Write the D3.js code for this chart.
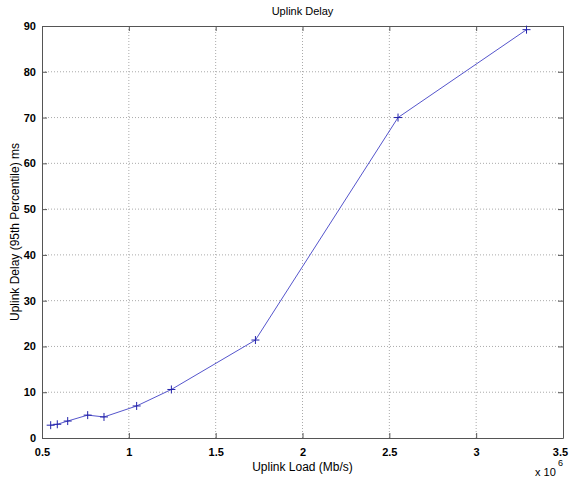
<!DOCTYPE html>
<html>
<head>
<meta charset="utf-8">
<script src="https://cdn.jsdelivr.net/npm/d3@7"></script>
<style>
  body { margin: 0; background: #fff; }
  text { font-family: "Liberation Sans", Arial, sans-serif; fill: #000; }
</style>
</head>
<body>
<svg id="chart" width="569" height="481"></svg>
<script>
// load values are in units of 1e6 (axis shows "x 10^6")
var loads = [0.55, 0.588, 0.648, 0.763, 0.857, 1.045, 1.245, 1.729, 2.55, 3.29];
var delays = [2.8, 3.0, 3.7, 5.0, 4.6, 7.0, 10.6, 21.4, 70.0, 89.2];
var xTicks = [0.5, 1, 1.5, 2, 2.5, 3, 3.5];
var yTicks = [0, 10, 20, 30, 40, 50, 60, 70, 80, 90];

var margin = { left: 42, top: 26, right: 6, bottom: 43 };
var svg = d3.select("#chart");
var W = +svg.attr("width"), H = +svg.attr("height");
var w = W - margin.left - margin.right, h = H - margin.top - margin.bottom;

var x = d3.scaleLinear().domain([0.5, 3.5]).range([0, w]);
var y = d3.scaleLinear().domain([0, 90]).range([h, 0]);

var g = svg.append("g").attr("transform", "translate(" + margin.left + "," + margin.top + ")");

// grid
g.selectAll(".gx").data(xTicks.slice(1, -1)).enter().append("line")
    .attr("x1", d => x(d)).attr("x2", d => x(d)).attr("y1", 0).attr("y2", h)
    .attr("stroke", "#aaa").attr("stroke-width", 1).attr("stroke-dasharray", "1,2");
g.selectAll(".gy").data(yTicks.slice(1, -1)).enter().append("line")
    .attr("y1", d => y(d)).attr("y2", d => y(d)).attr("x1", 0).attr("x2", w)
    .attr("stroke", "#aaa").attr("stroke-width", 1).attr("stroke-dasharray", "1,2");

// axes
var xAxis = d3.axisBottom(x).tickValues(xTicks).tickSizeInner(-5).tickSizeOuter(0).tickPadding(10).tickFormat(d3.format("~g"));
var yAxis = d3.axisLeft(y).tickValues(yTicks).tickSizeInner(-5).tickSizeOuter(0).tickPadding(6);
var xTop = d3.axisTop(x).tickValues(xTicks).tickSizeInner(-5).tickSizeOuter(0).tickFormat("");
var yRight = d3.axisRight(y).tickValues(yTicks).tickSizeInner(-5).tickSizeOuter(0).tickFormat("");

function style(sel) {
  sel.selectAll("path, line").attr("stroke", "#555");
  sel.selectAll("text").attr("font-size", 11).attr("font-weight", "bold").attr("fill", "#222");
}
var gx = g.append("g").attr("transform", "translate(0," + h + ")").call(xAxis).call(style);
// last label sits at the window edge, nudge it in a bit
gx.selectAll(".tick text").filter(d => d === 3.5).attr("dx", -3);
g.append("g").call(yAxis).call(style);
g.append("g").call(xTop).call(style);
g.append("g").attr("transform", "translate(" + w + ",0)").call(yRight).call(style);

// line
var pts = loads.map((d, i) => [d, delays[i]]);
g.append("path").datum(pts)
    .attr("fill", "none").attr("stroke", "#5555cc").attr("stroke-width", 1)
    .attr("d", d3.line().x(d => x(d[0])).y(d => y(d[1])));
g.selectAll(".mk").data(pts).enter().append("path")
    .attr("transform", d => "translate(" + x(d[0]) + "," + y(d[1]) + ")")
    .attr("d", "M-4,0H4M0,-4V4").attr("stroke", "#2222aa").attr("stroke-width", 1);

// labels
svg.append("text").attr("x", margin.left + w / 2).attr("y", 15).attr("text-anchor", "middle")
    .attr("font-size", 11).text("Uplink Delay");
svg.append("text").attr("x", margin.left + w / 2).attr("y", 471).attr("text-anchor", "middle")
    .attr("font-size", 12).text("Uplink Load (Mb/s)");
svg.append("text").attr("transform", "translate(19," + (margin.top + h / 2) + ") rotate(-90)")
    .attr("text-anchor", "middle").attr("font-size", 12).text("Uplink Delay (95th Percentile) ms");
svg.append("text").attr("x", 535).attr("y", 476).attr("font-size", 11).text("x 10");
svg.append("text").attr("x", 558).attr("y", 466).attr("font-size", 9).text("6");
</script>
</body>
</html>
